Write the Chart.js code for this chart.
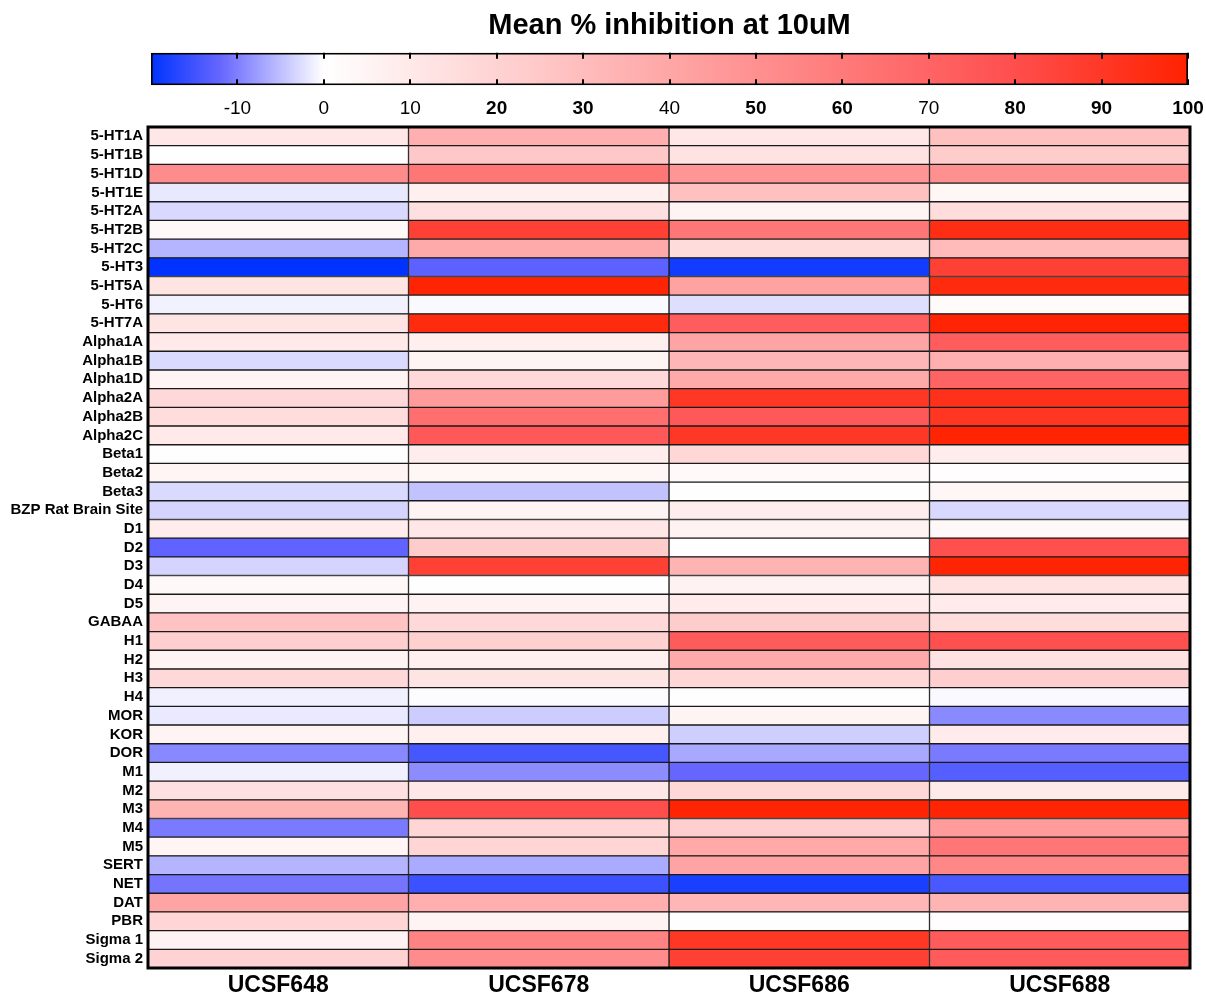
<!DOCTYPE html>
<html>
<head>
<meta charset="utf-8">
<script src="https://cdn.jsdelivr.net/npm/chart.js@4.4.0/dist/chart.umd.min.js"></script>
<style>
html,body{margin:0;padding:0;background:#fff;}
#wrap{position:relative;width:1206px;height:995px;}
#wrap canvas{position:absolute;left:0;top:0;}
</style>
</head>
<body>
<div id="wrap">
<canvas id="bar" width="1206" height="995" style="width:1206px;height:995px"></canvas>
<canvas id="heat" width="1206" height="995" style="width:1206px;height:995px"></canvas>
</div>
<script>
// ---------- data ----------
const titleText = 'Mean % inhibition at 10uM';
const columns = ['UCSF648', 'UCSF678', 'UCSF686', 'UCSF688'];
const rows = ['5-HT1A','5-HT1B','5-HT1D','5-HT1E','5-HT2A','5-HT2B','5-HT2C','5-HT3','5-HT5A','5-HT6','5-HT7A',
  'Alpha1A','Alpha1B','Alpha1D','Alpha2A','Alpha2B','Alpha2C','Beta1','Beta2','Beta3','BZP Rat Brain Site',
  'D1','D2','D3','D4','D5','GABAA','H1','H2','H3','H4','MOR','KOR','DOR','M1','M2','M3','M4','M5',
  'SERT','NET','DAT','PBR','Sigma 1','Sigma 2'];
const ucsf648 = [11, 0.5, 52, -1.8, -3, 3, -5.9, -20, 12, -1, 12, 10, -2.9, 5, 17, 15.5, 10, 0.5, 4.5, -2.9, -3.4,
  8, -12.5, -3.4, 3, 5, 27, 21.7, 5, 17, -1.2, -1.7, 5, -9.3, -1.2, 14, 34, -10.4, 4.5, -5.9, -10.9, 41, 19, 6, 20];
const ucsf678 = [36, 25, 62, 7, 14, 86, 38.5, -12.8, 99, -0.5, 96, 7, 5, 17, 45, 65, 75.5, 8, 4, -4.8, 5,
  11, 23, 86, 0.5, 6, 17, 21, 7, 12, -0.2, -4, 7, -14.4, -9, 11, 80, 19, 19, -6.7, -15.3, 36, 5, 56, 52];
const ucsf686 = [11, 13, 48, 28.5, 5, 62, 16, -18.6, 42, -2.6, 73, 41, 33, 38.5, 90, 75.5, 90, 18, 2.5, 0.5, 8,
  6, 0, 34, 6, 9, 23, 74, 38.5, 18, 0.5, 5, -3.8, -6.8, -12, 18, 99, 22, 39, 41, -18, 33, 0.5, 90, 86];
const ucsf688 = [28.5, 23, 50, 4, 15.5, 95, 31, 86, 96, 2, 99, 73, 36, 70, 93, 91, 99, 8, 1, 4, -3,
  3, 79, 99, 13, 9, 15.5, 79, 13, 21.7, -0.5, -9.2, 9, -10.4, -13.3, 9.5, 99, 45, 62, 54, -14.2, 34, 1, 74, 74];
const scaleMin = -20;
const scaleMax = 100;
const scaleTicks = [-10, 0, 10, 20, 30, 40, 50, 60, 70, 80, 90, 100];
const boldTicks = [20, 30, 50, 60, 80, 90, 100];

// ---------- colour scale (style) ----------
const colorStops = [
  {v: -20, c: [0, 51, 255]},
  {v: -12, c: [102, 102, 255]},
  {v: 0,   c: [255, 255, 255]},
  {v: 79,  c: [255, 80, 80]},
  {v: 100, c: [255, 34, 0]}
];
function rgb(c){ return 'rgb(' + c.map(Math.round).join(',') + ')'; }
function colorFor(v){
  if (v <= colorStops[0].v) return rgb(colorStops[0].c);
  for (let i = 1; i < colorStops.length; i++) {
    const a = colorStops[i-1], b = colorStops[i];
    if (v <= b.v) {
      const t = (v - a.v) / (b.v - a.v);
      return rgb(a.c.map((x, k) => x + (b.c[k] - x) * t));
    }
  }
  return rgb(colorStops[colorStops.length-1].c);
}
const FONT = "'Liberation Sans', Arial, Helvetica, sans-serif";

function barFill(ctx){
  const chart = ctx.chart;
  const sx = chart.scales.x;
  if (!sx || !chart.chartArea) return '#fff';
  const x0 = sx.getPixelForValue(scaleMin), x1 = sx.getPixelForValue(scaleMax);
  const g = chart.ctx.createLinearGradient(x0, 0, x1, 0);
  colorStops.forEach(s => g.addColorStop((s.v - scaleMin) / (scaleMax - scaleMin), rgb(s.c)));
  return g;
}

// ---------- colour bar ----------
new Chart(document.getElementById('bar'), {
  type: 'bar',
  data: {
    labels: ['scale'],
    datasets: [{
      data: [[scaleMin, scaleMax]],
      backgroundColor: barFill,
      borderColor: '#000',
      borderWidth: 2,
      borderSkipped: false,
      barPercentage: 1,
      categoryPercentage: 1
    }]
  },
  options: {
    indexAxis: 'y',
    responsive: false,
    animation: false,
    layout: {padding: {left: 151, right: 18, top: 0, bottom: 873}},
    plugins: {
      legend: {display: false},
      tooltip: {enabled: false},
      title: {
        display: true, text: titleText, color: '#000',
        font: {family: FONT, size: 29, weight: 'bold'},
        padding: {top: 9, bottom: 9}
      }
    },
    scales: {
      y: {display: false},
      x: {
        type: 'linear', min: scaleMin, max: scaleMax,
        afterBuildTicks: s => { s.ticks = scaleTicks.map(v => ({value: v})); },
        grid: {display: true, drawOnChartArea: true, drawTicks: true, tickLength: 10,
          tickColor: 'rgba(0,0,0,0)', color: '#000', lineWidth: 2, z: 1},
        border: {display: false, dash: [6, 20.5]},
        ticks: {
          padding: 2, color: '#000',
          font: c => ({family: FONT, size: 19, weight: (c.tick && boldTicks.includes(c.tick.value)) ? 'bold' : 'normal'}),
          callback: v => String(v)
        }
      }
    }
  }
});

// ---------- heat map ----------
const columnSets = [ucsf648, ucsf678, ucsf686, ucsf688];
const frame = {
  id: 'frame',
  afterDatasetsDraw(chart){
    const {ctx, chartArea: a} = chart;
    ctx.save();
    ctx.strokeStyle = '#000';
    ctx.lineWidth = 3;
    ctx.strokeRect(a.left, a.top, a.right - a.left, a.bottom - a.top);
    ctx.restore();
  }
};
new Chart(document.getElementById('heat'), {
  type: 'bar',
  data: {
    labels: rows,
    datasets: columns.map((name, i) => ({
      label: name,
      data: rows.map(() => 1),
      values: columnSets[i],
      backgroundColor: columnSets[i].map(colorFor),
      borderColor: '#1a1a1a',
      borderWidth: 1,
      borderSkipped: false,
      barPercentage: 1,
      categoryPercentage: 1
    }))
  },
  options: {
    indexAxis: 'y',
    responsive: false,
    animation: false,
    layout: {padding: {left: 0, right: 16, top: 127, bottom: 0}},
    plugins: {
      legend: {display: false},
      tooltip: {callbacks: {label: c => c.dataset.label + ': ' + c.dataset.values[c.dataIndex]}}
    },
    scales: {
      x: {
        type: 'linear', stacked: true, min: 0, max: columns.length,
        afterBuildTicks: s => { s.ticks = columns.map((_, i) => ({value: i + 0.5})); },
        afterFit: s => { s.height = 27; },
        grid: {display: false, drawTicks: false},
        border: {display: false},
        ticks: {padding: 4, color: '#000', autoSkip: false, maxRotation: 0,
          font: {family: FONT, size: 23, weight: 'bold'},
          callback: v => columns[Math.floor(v)]}
      },
      y: {
        stacked: true,
        afterFit: s => { s.width = 148; },
        grid: {display: false, drawTicks: false},
        border: {display: false},
        ticks: {padding: 5, color: '#000', autoSkip: false,
          font: {family: FONT, size: 15, weight: 'bold'}}
      }
    }
  },
  plugins: [frame]
});
</script>
</body>
</html>
